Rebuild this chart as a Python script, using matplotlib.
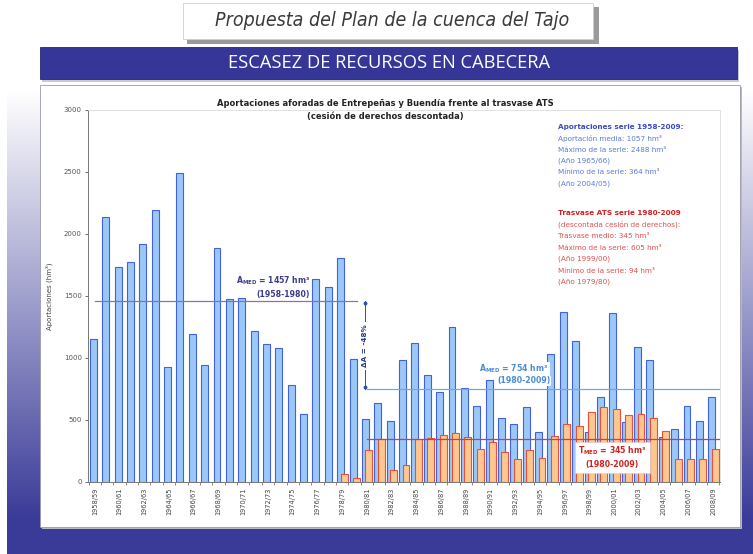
import numpy as np
import matplotlib
matplotlib.use("Agg")
import matplotlib.pyplot as plt
from matplotlib.patches import Rectangle
from matplotlib.colors import to_rgb

# ---------------- data ----------------
years = ["1958/59", "1959/60", "1960/61", "1961/62", "1962/63", "1963/64", "1964/65",
         "1965/66", "1966/67", "1967/68", "1968/69", "1969/70", "1970/71", "1971/72",
         "1972/73", "1973/74", "1974/75", "1975/76", "1976/77", "1977/78", "1978/79",
         "1979/80", "1980/81", "1981/82", "1982/83", "1983/84", "1984/85", "1985/86",
         "1986/87", "1987/88", "1988/89", "1989/90", "1990/91", "1991/92", "1992/93",
         "1993/94", "1994/95", "1995/96", "1996/97", "1997/98", "1998/99", "1999/00",
         "2000/01", "2001/02", "2002/03", "2003/04", "2004/05", "2005/06", "2006/07",
         "2007/08", "2008/09"]

aportaciones = [1150, 2140, 1730, 1775, 1920, 2190, 930, 2488, 1190, 945, 1885,
                1475, 1485, 1215, 1110, 1080, 780, 550, 1635, 1575, 1810, 990,
                505, 640, 492, 987, 1124, 866, 723, 1247, 761, 613, 823, 513,
                465, 602, 406, 1035, 1371, 1134, 405, 688, 1366, 483, 1091, 984,
                364, 430, 614, 492, 688]

trasvase = [0] * 20 + [65, 35, 255, 344, 94, 140, 350, 352, 376, 392, 360, 266,
                       325, 245, 188, 261, 191, 371, 466, 450, 566, 605, 590, 538,
                       546, 515, 415, 185, 185, 185, 264]

a_med_1 = 1457   # 1958-1980
a_med_2 = 754    # 1980-2009
t_med = 345      # 1980-2009

W, H = 753, 554
fig = plt.figure(figsize=(W / 100, H / 100), dpi=100)


def P(x, y):
    return (x / W, 1 - y / H)


# ---------------- background ----------------
bg = fig.add_axes([0, 0, 1, 1], zorder=-10)
bg.set_xlim(0, W)
bg.set_ylim(H, 0)
bg.axis("off")
yy = np.arange(H)[:, None] * np.ones((1, W))
t = np.clip((yy - 90) / (520 - 90), 0, 1)
white = np.array([1.0, 1.0, 1.0])
dark = np.array(to_rgb("#3a3a98"))
img = white[None, None, :] * (1 - t[..., None]) + dark[None, None, :] * t[..., None]
img[:, :7, :] = 1.0
bg.imshow(img, extent=(0, W, H, 0), aspect="auto", interpolation="bilinear")

# white chart panel
bg.add_patch(Rectangle((42, 87), 700, 442, facecolor="#b8b8c8", edgecolor="none"))
bg.add_patch(Rectangle((40, 85), 700, 442, facecolor="white", edgecolor="#9a9aa8", lw=0.6))

# title box with shadow
bg.add_patch(Rectangle((187, 7), 412, 37, facecolor="#9a9a9a", edgecolor="none"))
bg.add_patch(Rectangle((183, 3), 410, 36, facecolor="white", edgecolor="#cfcfcf", lw=0.6))
bg.text(392, 21, "Propuesta del Plan de la cuenca del Tajo", ha="center", va="center",
        fontsize=14, style="italic", color="#3a3a3a", family="DejaVu Sans",
        fontstretch="condensed", fontweight="light")

# banner
bg.add_patch(Rectangle((42, 50), 697, 32, facecolor="#c8c8d0", edgecolor="none"))
bg.add_patch(Rectangle((40, 47), 697, 32, facecolor="#363699", edgecolor="#25257a", lw=0.6))
bg.text(389, 63, "ESCASEZ DE RECURSOS EN CABECERA", ha="center", va="center",
        fontsize=13.2, color="white", family="Open Sans")

# ---------------- chart ----------------
ax_l, ax_r, ax_t, ax_b = 88, 720, 110, 482
ax = fig.add_axes([ax_l / W, 1 - ax_b / H, (ax_r - ax_l) / W, (ax_b - ax_t) / H])
ax.patch.set_alpha(0)

x = np.arange(len(years))
bw = 0.56
ax.bar(x - 0.12, aportaciones, width=bw, color="#9cc8f8", edgecolor="#4262dc",
       linewidth=0.8, zorder=2)
tv = np.array(trasvase, dtype=float)
mask = tv > 0
ax.bar(x[mask] + 0.16, tv[mask], width=bw, color="#fdc890", edgecolor="#e8503a",
       linewidth=0.8, zorder=3)

# mean lines
ax.plot([0.0, 21.2], [a_med_1, a_med_1], color="#7a7aa6", lw=0.9, zorder=4)
ax.plot([22.0, 50.55], [a_med_2, a_med_2], color="#6aaae8", lw=0.9, zorder=4)
ax.plot([22.0, 50.55], [t_med, t_med], color="#c8404c", lw=0.9, zorder=4)

# delta arrow
xa = 21.85
ax.plot([xa, xa], [a_med_1, 1300], color="#3050a0", lw=0.7, zorder=5)
ax.plot([xa, xa], [900, a_med_2], color="#3050a0", lw=0.7, zorder=5)
ax.plot([xa, xa], [a_med_1 - 10, a_med_2 + 10], ls="none", marker="o", ms=1.8,
        color="#3050a0", zorder=5)
ax.text(xa, 1100, "ΔA = -48%", rotation=90, ha="center", va="center", fontsize=5.2,
        color="#2a3a8a", fontweight="bold", zorder=6)

ax.set_xlim(-0.55, 50.55)
ax.set_ylim(0, 3000)
ax.set_yticks(np.arange(0, 3001, 500))
ax.tick_params(axis="y", labelsize=5, colors="#555555", length=2.5, width=0.6, pad=2)
ax.set_xticks(x[::2])
ax.set_xticklabels(years[::2], rotation=90, fontsize=4.8, color="#444444")
ax.set_xticks(np.arange(-0.5, 50.6, 1.0), minor=True)
ax.tick_params(axis="x", which="major", length=0, pad=4)
ax.tick_params(axis="x", which="minor", length=2.5, width=0.6, color="#777777")
ax.set_ylabel("Aportaciones (hm³)", fontsize=5, color="#444444", labelpad=8)
for s in ["left", "bottom"]:
    ax.spines[s].set_color("#777777")
    ax.spines[s].set_linewidth(0.7)
for s in ["top", "right"]:
    ax.spines[s].set_color("#dddddd")
    ax.spines[s].set_linewidth(0.6)

# chart title
fig.text(*P(385, 104), "Aportaciones aforadas de Entrepeñas y Buendía frente al trasvase ATS",
         ha="center", va="center", fontsize=6.0, fontweight="bold", color="#222222")
fig.text(*P(385, 116), "(cesión de derechos descontada)", ha="center", va="center",
         fontsize=6.0, fontweight="bold", color="#222222")

# mean annotations
ax.text(14.4, 1625, r"A$_{\mathbf{MED}}$ = 1457 hm³", ha="center", va="center",
        fontsize=5.6, fontweight="bold", color="#3c3c8c", zorder=6)
ax.text(15.2, 1515, "(1958-1980)", ha="center", va="center",
        fontsize=5.6, fontweight="bold", color="#3c3c8c", zorder=6)
ax.text(33.9, 912, r"A$_{\mathbf{MED}}$ = 754 hm³", ha="center", va="center",
        fontsize=5.6, fontweight="bold", color="#4a8ad8", zorder=6,
        bbox=dict(facecolor="white", edgecolor="none", pad=0.6))
ax.text(34.7, 815, "(1980-2009)", ha="center", va="center",
        fontsize=5.6, fontweight="bold", color="#4a8ad8", zorder=6,
        bbox=dict(facecolor="white", edgecolor="none", pad=0.6))
ax.add_patch(Rectangle((38.8, 72), 6.1, 250, facecolor="white", edgecolor="#e8c8c8",
                       lw=0.5, zorder=6))
ax.text(41.85, 252, r"T$_{\mathbf{MED}}$ = 345 hm³", ha="center", va="center",
        fontsize=5.6, fontweight="bold", color="#d02020", zorder=7)
ax.text(41.85, 145, "(1980-2009)", ha="center", va="center",
        fontsize=5.6, fontweight="bold", color="#d02020", zorder=7)

# info text
blue_lines = [("Aportaciones serie 1958-2009:", True),
              ("Aportación media: 1057 hm³", False),
              ("Máximo de la serie: 2488 hm³", False),
              ("(Año 1965/66)", False),
              ("Mínimo de la serie: 364 hm³", False),
              ("(Año 2004/05)", False)]
red_lines = [("Trasvase ATS serie 1980-2009", True),
             ("(descontada cesión de derechos):", False),
             ("Trasvase medio: 345 hm³", False),
             ("Máximo de la serie: 605 hm³", False),
             ("(Año 1999/00)", False),
             ("Mínimo de la serie: 94 hm³", False),
             ("(Año 1979/80)", False)]
y0 = 127
for i, (s, b) in enumerate(blue_lines):
    fig.text(*P(558, y0 + i * 11.3), s, ha="left", va="center", fontsize=5.2,
             fontweight="bold" if b else "normal",
             color="#3a4ac8" if b else "#5a7ad8")
y0 = 213
for i, (s, b) in enumerate(red_lines):
    fig.text(*P(558, y0 + i * 11.5), s, ha="left", va="center", fontsize=5.2,
             fontweight="bold" if b else "normal",
             color="#d02020" if b else "#e05050")

fig.savefig("out.png", dpi=100)
